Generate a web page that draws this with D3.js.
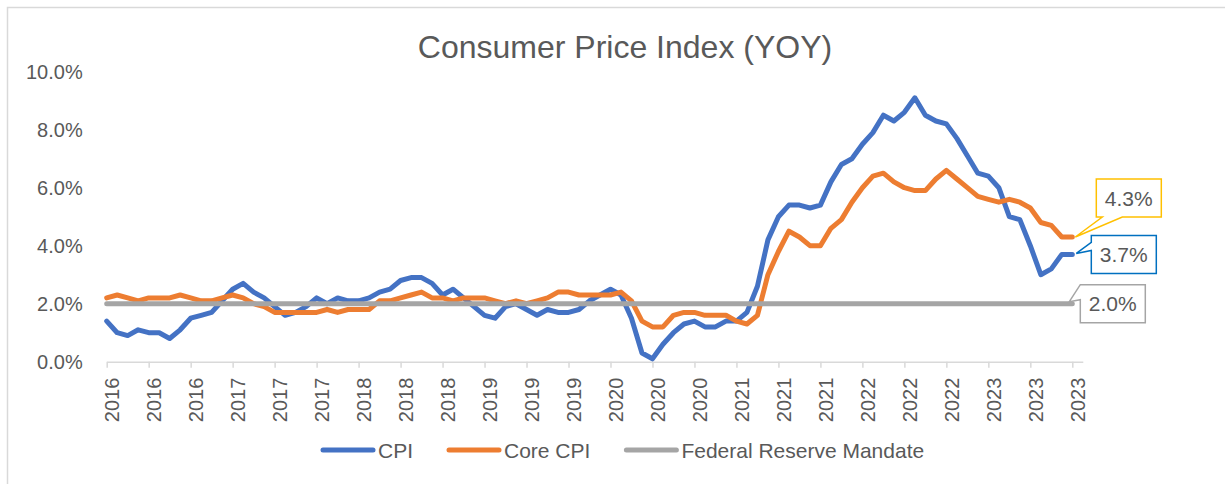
<!DOCTYPE html>
<html>
<head>
<meta charset="utf-8">
<script src="https://cdn.jsdelivr.net/npm/d3@7"></script>
<style>
  body { margin: 0; background: #fff; }
  text { font-family: "Liberation Sans", Arial, sans-serif; fill: #595959; }
</style>
</head>
<body>
<div id="cpi-chart"></div>
<script>
// monthly YoY values, Jan 2016 .. Sep 2023
var cpi = [
  1.4, 1.0, 0.9, 1.1, 1.0, 1.0, 0.8, 1.1, 1.5, 1.6, 1.7, 2.1,
  2.5, 2.7, 2.4, 2.2, 1.9, 1.6, 1.7, 1.9, 2.2, 2.0, 2.2, 2.1,
  2.1, 2.2, 2.4, 2.5, 2.8, 2.9, 2.9, 2.7, 2.3, 2.5, 2.2, 1.9,
  1.6, 1.5, 1.9, 2.0, 1.8, 1.6, 1.8, 1.7, 1.7, 1.8, 2.1, 2.3,
  2.5, 2.3, 1.5, 0.3, 0.1, 0.6, 1.0, 1.3, 1.4, 1.2, 1.2, 1.4,
  1.4, 1.7, 2.6, 4.2, 5.0, 5.4, 5.4, 5.3, 5.4, 6.2, 6.8, 7.0,
  7.5, 7.9, 8.5, 8.3, 8.6, 9.1, 8.5, 8.3, 8.2, 7.7, 7.1, 6.5,
  6.4, 6.0, 5.0, 4.9, 4.0, 3.0, 3.2, 3.7, 3.7
];
var coreCpi = [
  2.2, 2.3, 2.2, 2.1, 2.2, 2.2, 2.2, 2.3, 2.2, 2.1, 2.1, 2.2,
  2.3, 2.2, 2.0, 1.9, 1.7, 1.7, 1.7, 1.7, 1.7, 1.8, 1.7, 1.8,
  1.8, 1.8, 2.1, 2.1, 2.2, 2.3, 2.4, 2.2, 2.2, 2.1, 2.2, 2.2,
  2.2, 2.1, 2.0, 2.1, 2.0, 2.1, 2.2, 2.4, 2.4, 2.3, 2.3, 2.3,
  2.3, 2.4, 2.1, 1.4, 1.2, 1.2, 1.6, 1.7, 1.7, 1.6, 1.6, 1.6,
  1.4, 1.3, 1.6, 3.0, 3.8, 4.5, 4.3, 4.0, 4.0, 4.6, 4.9, 5.5,
  6.0, 6.4, 6.5, 6.2, 6.0, 5.9, 5.9, 6.3, 6.6, 6.3, 6.0, 5.7,
  5.6, 5.5, 5.6, 5.5, 5.3, 4.8, 4.7, 4.3, 4.3
];
var fedMandate = 2.0;
// one label every 4 months
var tickLabels = [
  "2016", "2016", "2016", "2017", "2017", "2017", "2018", "2018",
  "2018", "2019", "2019", "2019", "2020", "2020", "2020", "2021",
  "2021", "2021", "2022", "2022", "2022", "2023", "2023", "2023"
];
var yTicks = [0, 2, 4, 6, 8, 10];
var seriesNames = ["CPI", "Core CPI", "Federal Reserve Mandate"];
var seriesColors = ["#4472C4", "#ED7D31", "#A5A5A5"];

var W = 1225, H = 484;
var svg = d3
  .select("#cpi-chart")
  .append("svg")
  .attr("width", W)
  .attr("height", H);

// chart border (only top/left visible in the crop)
svg
  .append("rect")
  .attr("x", 7.5)
  .attr("y", 7.5)
  .attr("width", 1240)
  .attr("height", 500)
  .attr("fill", "none")
  .attr("stroke", "#D9D9D9")
  .attr("stroke-width", 1.5);

var x = d3.scaleLinear().domain([0, cpi.length]).range([106.7, 1082.8]);
var y = d3.scaleLinear().domain([0, 10]).range([361.7, 71.7]);

svg
  .append("text")
  .attr("x", 625)
  .attr("y", 58)
  .attr("text-anchor", "middle")
  .style("font-size", "32px")
  .text("Consumer Price Index (YOY)");

// y axis (labels only)
var yAxis = svg
  .append("g")
  .attr("transform", "translate(106.7,0)")
  .call(
    d3
      .axisLeft(y)
      .tickValues(yTicks)
      .tickSize(0)
      .tickPadding(24)
      .tickFormat((d) => d.toFixed(1) + "%")
  );
yAxis.select(".domain").remove();
yAxis.selectAll("text").style("font-size", "20px").attr("fill", "#595959");

// x axis
var tickIdx = tickLabels.map((d, i) => i * 4);
var xAxis = svg
  .append("g")
  .attr("transform", "translate(0," + y(0) + ")")
  .call(
    d3
      .axisBottom(x)
      .tickValues(tickIdx)
      .tickSizeInner(6)
      .tickSizeOuter(0)
      .tickFormat((d, i) => tickLabels[i])
  );
xAxis.select(".domain").attr("stroke", "#D9D9D9").attr("stroke-width", 1.5);
xAxis.selectAll(".tick line").attr("stroke", "#D9D9D9").attr("stroke-width", 1.5);
xAxis
  .selectAll(".tick text")
  .attr("fill", "#595959")
  .style("font-size", "20px")
  .attr("text-anchor", "end")
  .attr("transform", "translate(5,16) rotate(-90)")
  .attr("x", 0)
  .attr("y", 0)
  .attr("dy", "0.35em");

var line = d3
  .line()
  .x((d, i) => x(i))
  .y((d) => y(d));

svg
  .append("path")
  .datum(cpi)
  .attr("fill", "none")
  .attr("stroke", seriesColors[0])
  .attr("stroke-width", 5)
  .attr("stroke-linejoin", "round")
  .attr("stroke-linecap", "round")
  .attr("d", line);

svg
  .append("path")
  .datum(coreCpi)
  .attr("fill", "none")
  .attr("stroke", seriesColors[1])
  .attr("stroke-width", 5)
  .attr("stroke-linejoin", "round")
  .attr("stroke-linecap", "round")
  .attr("d", line);

var last = cpi.length - 1;
svg
  .append("line")
  .attr("x1", x(0))
  .attr("x2", x(last))
  .attr("y1", y(fedMandate))
  .attr("y2", y(fedMandate))
  .attr("stroke", seriesColors[2])
  .attr("stroke-width", 5)
  .attr("stroke-linecap", "round");

// callout labels for the last values
function callout(px, py, box, tip, base, side, color, label) {
  var l = px + box[0], r = px + box[1], t = py + box[2], b = py + box[3];
  var p;
  if (side == "bottom") {
    p = [[l, t], [r, t], [r, b], [px + base[1], b], [px + tip[0], py + tip[1]], [px + base[0], b], [l, b]];
  } else {
    p = [[l, t], [r, t], [r, b], [l, b], [l, py + base[1]], [px + tip[0], py + tip[1]], [l, py + base[0]]];
  }
  svg
    .append("path")
    .attr("d", "M" + p.join("L") + "Z")
    .attr("fill", "#fff")
    .attr("stroke", color)
    .attr("stroke-width", 1.5);
  svg
    .append("text")
    .attr("x", (l + r) / 2)
    .attr("y", (t + b) / 2)
    .attr("dy", "0.36em")
    .attr("text-anchor", "middle")
    .style("font-size", "21px")
    .text(label);
}
var xl = x(last);
callout(xl, y(coreCpi[last]), [24, 89, -58, -20], [3, 0], [30, 50], "bottom", "#FFC000", coreCpi[last].toFixed(1) + "%");
callout(xl, y(cpi[last]), [19, 84, -19, 19], [4, -1], [-12, -4], "left", "#0070C0", cpi[last].toFixed(1) + "%");
callout(xl, y(fedMandate), [8, 73, -19, 19], [-3, -2], [-19, -4], "left", "#A5A5A5", fedMandate.toFixed(1) + "%");

// legend
var legend = svg.append("g").attr("transform", "translate(0,450)");
var lx = 321;
seriesNames.forEach(function (name, i) {
  legend
    .append("line")
    .attr("x1", lx + 2)
    .attr("x2", lx + 52)
    .attr("stroke", seriesColors[i])
    .attr("stroke-width", 5)
    .attr("stroke-linecap", "round");
  var t = legend
    .append("text")
    .attr("x", lx + 57)
    .attr("dy", "0.36em")
    .style("font-size", "21px")
    .text(name);
  lx += 57 + t.node().getComputedTextLength() + 34;
});
</script>
</body>
</html>
